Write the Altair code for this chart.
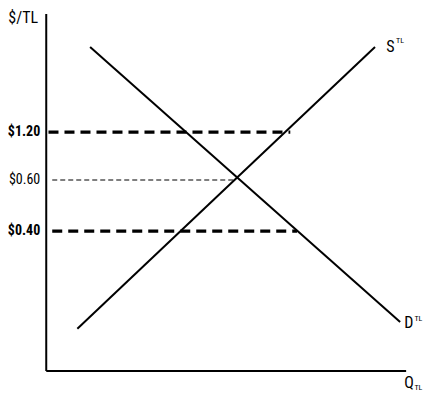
import altair as alt
import pandas as pd

# Schematic units: quantity 0..100 along x, price position 0..100 along y
supply_q = [8.3, 87.7]
supply_p = [11.8, 90.8]
demand_q = [11.7, 94.4]
demand_p = [90.8, 13.7]

price_labels = ["$1.20", "$0.60", "$0.40"]
price_levels = [66.9, 53.5, 39.2]
dash_start = [0.6, 1.6, 1.6]
dash_end = [65.1, 50.4, 66.9]
label_weight = ["bold", "normal", "bold"]

axis_x_end = 96.0
axis_y_end = 100.0

FONT = "Roboto Condensed, DejaVu Sans Condensed, Liberation Sans Narrow, Liberation Sans, sans-serif"

xs = alt.Scale(domain=[-10.2, 100.5], nice=False, zero=False)
ys = alt.Scale(domain=[-5.9, 101.7], nice=False, zero=False)

def X(f="q"):
    return alt.X(f"{f}:Q", scale=xs, axis=None)

def Y(f="p"):
    return alt.Y(f"{f}:Q", scale=ys, axis=None)

supply_df = pd.DataFrame({"q": supply_q, "p": supply_p})
demand_df = pd.DataFrame({"q": demand_q, "p": demand_p})

supply = alt.Chart(supply_df).mark_line(color="black", strokeWidth=2).encode(x=X(), y=Y())
demand = alt.Chart(demand_df).mark_line(color="black", strokeWidth=2).encode(x=X(), y=Y())

axes_df = pd.DataFrame({"q": [0, 0], "p": [0, 0], "q2": [axis_x_end, 0], "p2": [0, axis_y_end]})
axes = alt.Chart(axes_df).mark_rule(color="black", strokeWidth=2).encode(
    x=X(), y=Y(), x2="q2:Q", y2="p2:Q")

lv = pd.DataFrame({"label": price_labels, "p": price_levels, "q": dash_start,
                   "q2": dash_end, "w": label_weight, "lx": [-1.6] * 3})

thick = alt.Chart(lv[lv["w"] == "bold"]).mark_rule(
    color="black", strokeWidth=3.2, strokeDash=[10, 6]).encode(x=X(), x2="q2:Q", y=Y())
thin = alt.Chart(lv[lv["w"] == "normal"]).mark_rule(
    color="black", strokeWidth=1.2, strokeDash=[5, 3]).encode(x=X(), x2="q2:Q", y=Y())

lab_bold = alt.Chart(lv[lv["w"] == "bold"]).mark_text(
    align="right", baseline="middle", font=FONT, fontSize=14, fontWeight="bold"
).encode(x=X("lx"), y=Y(), text="label:N")
lab_norm = alt.Chart(lv[lv["w"] == "normal"]).mark_text(
    align="right", baseline="middle", font=FONT, fontSize=14, fontWeight="normal"
).encode(x=X("lx"), y=Y(), text="label:N")

main_df = pd.DataFrame({
    "t": ["$/TL", "S", "D", "Q"],
    "q": [-10.1, 90.7, 95.5, 95.5],
    "p": [99.0, 90.8, 13.4, -3.3],
})
main_txt = alt.Chart(main_df).mark_text(
    align="left", baseline="middle", font=FONT, fontSize=16
).encode(x=X(), y=Y(), text="t:N")

small_df = pd.DataFrame({
    "t": ["TL", "TL", "TL"],
    "q": [93.3, 98.2, 98.2],
    "p": [92.4, 14.5, -4.7],
})
small_txt = alt.Chart(small_df).mark_text(
    align="left", baseline="middle", font=FONT, fontSize=8
).encode(x=X(), y=Y(), text="t:N")

chart = alt.layer(axes, thick, thin, supply, demand, lab_bold, lab_norm, main_txt, small_txt).properties(
    width=415, height=384, padding=0, autosize=alt.AutoSizeParams(type="none"),
    background="white"
).configure_view(stroke=None)

chart.save("out.html", embed_options={"renderer": "svg", "actions": False})
